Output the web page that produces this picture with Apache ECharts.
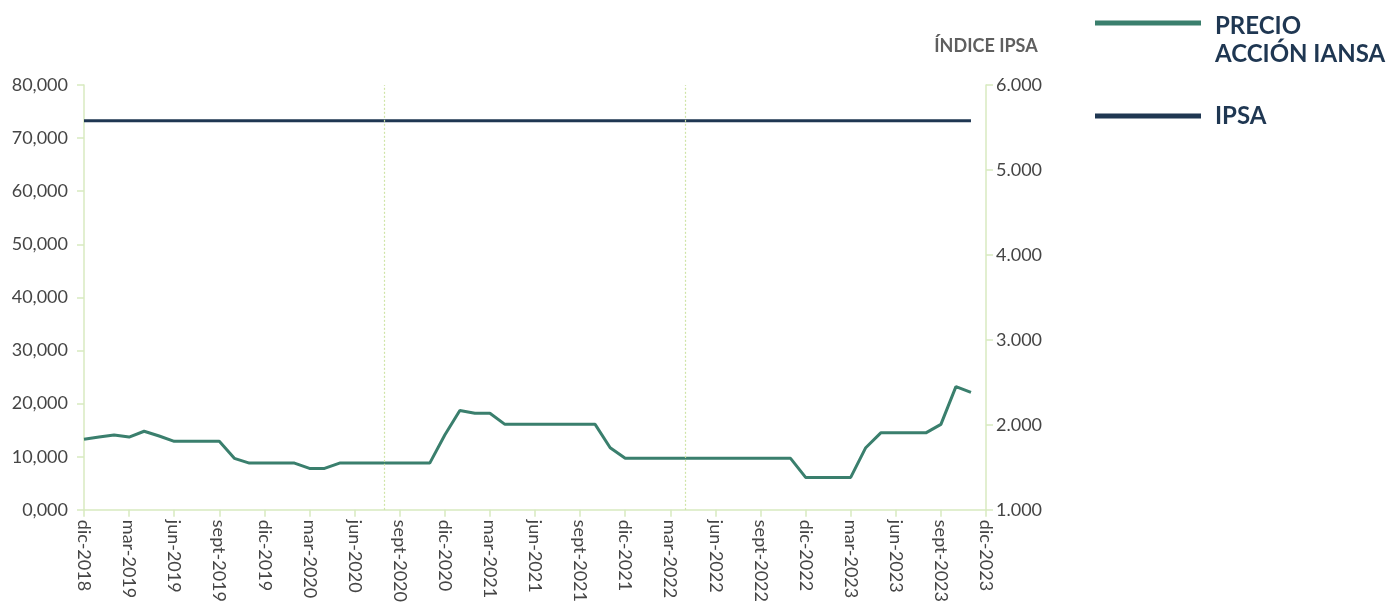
<!DOCTYPE html>
<html>
<head>
<meta charset="utf-8">
<script src="https://cdn.jsdelivr.net/npm/echarts@6/dist/echarts.min.js"></script>
<style>
  html, body { margin: 0; padding: 0; background: #fff; }
  #main { width: 1390px; height: 605px; }
</style>
</head>
<body>
<div id="main"></div>
<script>
// meses y años del eje x (dic-2018 .. dic-2023)
const meses = ['ene', 'feb', 'mar', 'abr', 'may', 'jun', 'jul', 'ago', 'sept', 'oct', 'nov', 'dic'];
const anios = [2018, 2019, 2020, 2021, 2022, 2023];

// precio acción IANSA (eje izquierdo), dic-2018 .. nov-2023
const precioIansa = [
    13300, 13700, 14100, 13700, 14800, 13900, 12900, 12900, 12900, 12900,
    9700, 8800, 8800, 8800, 8800, 7800, 7800, 8800, 8800, 8800,
    8800, 8800, 8800, 8800, 14100, 18700, 18200, 18200, 16100, 16100,
    16100, 16100, 16100, 16100, 16100, 11700, 9700, 9700, 9700, 9700,
    9700, 9700, 9700, 9700, 9700, 9700, 9700, 9700, 6100, 6100,
    6100, 6100, 11700, 14500, 14500, 14500, 14500, 16100, 23200, 22100
];

// índice IPSA (eje derecho)
const ipsa = [
    5580, 5580, 5580, 5580, 5580, 5580, 5580, 5580, 5580, 5580,
    5580, 5580, 5580, 5580, 5580, 5580, 5580, 5580, 5580, 5580,
    5580, 5580, 5580, 5580, 5580, 5580, 5580, 5580, 5580, 5580,
    5580, 5580, 5580, 5580, 5580, 5580, 5580, 5580, 5580, 5580,
    5580, 5580, 5580, 5580, 5580, 5580, 5580, 5580, 5580, 5580,
    5580, 5580, 5580, 5580, 5580, 5580, 5580, 5580, 5580, 5580
];

// líneas punteadas de referencia
const marcas = ['ago-2020', 'abr-2022'];

let categorias = [];
anios.forEach(a => {
    meses.forEach((m, i) => {
        if (a === 2018 && i < 11) return;
        categorias.push(m + '-' + a);
    });
});

const verde = '#3a7f6d';
const azul = '#1f3752';
const ejeColor = '#d8eac0';
const fuente = 'Lato';

let option = {
    animation: false,
    textStyle: {fontFamily: fuente},
    grid: {left: 84, right: 404, top: 85, bottom: 93, containLabel: false},
    xAxis: {
        type: 'category', data: categorias, boundaryGap: false,
        axisLine: {lineStyle: {color: ejeColor, width: 1.5}},
        axisTick: {show: true, interval: 2, length: 7, lineStyle: {color: ejeColor, width: 1.5}},
        axisLabel: {
            interval: 2, rotate: -90, margin: 10,
            color: '#454545', fontSize: 18, fontFamily: fuente
        },
        splitLine: {show: false}
    },
    yAxis: [{
        type: 'value', min: 0, max: 80000, interval: 10000, position: 'left',
        axisLine: {show: true, lineStyle: {color: ejeColor, width: 1.5}},
        axisTick: {show: true, length: 7, lineStyle: {color: ejeColor, width: 1.5}},
        axisLabel: {
            color: '#454545', fontSize: 18, fontFamily: fuente, margin: 16,
            formatter: v => (v / 1000) + ',000'
        },
        splitLine: {show: false}
    }, {
        type: 'value', min: 1000, max: 6000, interval: 1000, position: 'right',
        name: 'ÍNDICE IPSA', nameLocation: 'end', nameGap: 30,
        nameTextStyle: {color: '#5f5f5f', fontSize: 18, fontWeight: 'bold', fontFamily: fuente, align: 'center'},
        axisLine: {show: true, lineStyle: {color: ejeColor, width: 1.5}},
        axisTick: {show: true, length: 7, lineStyle: {color: ejeColor, width: 1.5}},
        axisLabel: {
            color: '#454545', fontSize: 18, fontFamily: fuente, margin: 10,
            formatter: v => (v / 1000) + '.000'
        },
        splitLine: {show: false}
    }],
    series: [{
        name: 'PRECIO ACCIÓN IANSA', type: 'line', data: precioIansa, yAxisIndex: 0,
        symbol: 'none', lineStyle: {color: verde, width: 3},
        markLine: {
            silent: true, symbol: 'none', label: {show: false},
            lineStyle: {color: '#cfe4a6', type: [2, 2], width: 1.2},
            data: marcas.map(m => ({xAxis: m}))
        },
        z: 3
    }, {
        name: 'IPSA', type: 'line', data: ipsa, yAxisIndex: 1,
        symbol: 'none', lineStyle: {color: azul, width: 3},
        z: 2
    }],
    // leyenda a la derecha
    graphic: [
        {type: 'line', shape: {x1: 1095, y1: 23, x2: 1201, y2: 23}, style: {stroke: verde, lineWidth: 5}},
        {type: 'text', left: 1215, top: 12, style: {text: 'PRECIO\nACCIÓN IANSA', fill: azul, font: 'bold 24px Lato', lineHeight: 28}},
        {type: 'line', shape: {x1: 1095, y1: 116, x2: 1201, y2: 116}, style: {stroke: azul, lineWidth: 5}},
        {type: 'text', left: 1215, top: 102, style: {text: 'IPSA', fill: azul, font: 'bold 24px Lato', lineHeight: 28}}
    ]
};

let myChart = echarts.init(document.getElementById('main'));
myChart.setOption(option);
</script>
</body>
</html>
